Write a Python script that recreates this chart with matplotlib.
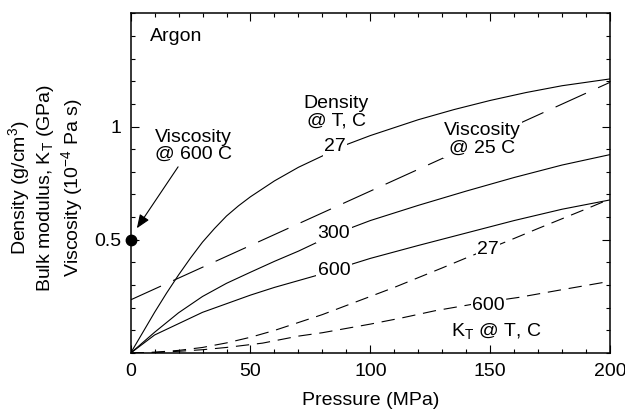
import matplotlib
matplotlib.use("Agg")
import matplotlib.pyplot as plt
from matplotlib.ticker import MultipleLocator

plt.rcParams["font.family"] = ["Liberation Sans", "DejaVu Sans"]
plt.rcParams["mathtext.default"] = "regular"

# Argon: density and bulk modulus vs pressure (MPa)
p_rho27 = [0, 5, 10, 15, 20, 25, 30, 35, 40, 45, 50, 60, 70, 80, 90, 100, 110, 120,
           135, 150, 165, 180, 200]
rho27 = [0, 0.09, 0.18, 0.265, 0.345, 0.42, 0.49, 0.55, 0.605, 0.65, 0.69, 0.76, 0.82,
         0.87, 0.92, 0.96, 0.995, 1.03, 1.075, 1.115, 1.15, 1.18, 1.21]

p_rho300 = [0, 10, 20, 30, 40, 50, 60, 70, 80, 90, 100, 120, 140, 160, 180, 200]
rho300 = [0, 0.092, 0.178, 0.25, 0.308, 0.357, 0.405, 0.45, 0.5, 0.545, 0.585, 0.652,
          0.715, 0.775, 0.83, 0.876]

p_rho600 = [0, 10, 20, 30, 40, 50, 60, 70, 80, 90, 100, 120, 140, 160, 180, 200]
rho600 = [0, 0.08, 0.13, 0.18, 0.218, 0.256, 0.29, 0.32, 0.35, 0.385, 0.418, 0.475,
          0.53, 0.585, 0.635, 0.676]

p_kt27 = [0, 10, 20, 30, 40, 50, 60, 70, 80, 90, 100, 110, 120, 130, 140, 150, 160,
          170, 180, 190, 200]
kt27 = [0, 0.004, 0.012, 0.025, 0.045, 0.07, 0.1, 0.135, 0.17, 0.21, 0.25, 0.29, 0.333,
        0.376, 0.42, 0.463, 0.506, 0.55, 0.593, 0.636, 0.68]

p_kt600 = [0, 10, 20, 30, 40, 55, 70, 80, 100, 113, 127, 145, 162, 180, 200]
kt600 = [0, 0.003, 0.008, 0.015, 0.025, 0.044, 0.075, 0.09, 0.128, 0.155, 0.187, 0.22,
         0.246, 0.28, 0.317]

# viscosity at 25 C, and the single 600 C point
p_visc25 = [0, 200]
visc25 = [0.235, 1.195]
visc600 = 0.5

fig = plt.figure(figsize=(6.25, 4.13), dpi=100)
ax = fig.add_axes([0.209, 0.145, 0.767, 0.823])

lw = 0.8
ax.plot(p_rho27, rho27, color="k", lw=lw)
ax.plot(p_rho300, rho300, color="k", lw=lw)
ax.plot(p_rho600, rho600, color="k", lw=lw)
ax.plot(p_kt27, kt27, color="k", lw=lw, linestyle=(0, (12, 7)))
ax.plot(p_kt600, kt600, color="k", lw=lw, linestyle=(0, (12, 7)))
ax.plot(p_visc25, visc25, color="k", lw=lw, linestyle=(0, (30, 12)))
ax.plot([0], [visc600], "o", color="k", ms=7.5, clip_on=False, zorder=5)

ax.annotate("", xy=(2.6, 0.551), xytext=(19.8, 0.822),
            arrowprops=dict(arrowstyle="-|>,head_length=0.55,head_width=0.22",
                            color="k", lw=lw, mutation_scale=15,
                            shrinkA=0, shrinkB=0))

fs = 14
box = dict(facecolor="white", edgecolor="none", pad=1.0)
ax.text(8.1, 1.396, "Argon", fontsize=fs, ha="left", va="center")
ax.text(26.2, 0.916, "Viscosity\n@ 600 C", fontsize=fs, ha="center", va="center",
        linespacing=1.0)
ax.text(85.8, 1.062, "Density\n@ T, C", fontsize=fs, ha="center", va="center",
        linespacing=1.0)
ax.text(146.8, 0.943, "Viscosity\n@ 25 C", fontsize=fs, ha="center", va="center",
        linespacing=1.0, bbox=box)
ax.text(85.2, 0.91, "27", fontsize=fs, ha="center", va="center", bbox=box)
ax.text(84.8, 0.529, "300", fontsize=fs, ha="center", va="center", bbox=box)
ax.text(84.8, 0.364, "600", fontsize=fs, ha="center", va="center", bbox=box)
ax.text(149.0, 0.458, "27", fontsize=fs, ha="center", va="center", bbox=box)
ax.text(149.3, 0.209, "600", fontsize=fs, ha="center", va="center", bbox=box)
ax.text(152.7, 0.098, "K$_T$ @ T, C", fontsize=fs, ha="center", va="center")

ax.set_xlim(0, 200)
ax.set_ylim(0, 1.5)
ax.set_xticks([0, 50, 100, 150, 200])
ax.set_yticks([0.5, 1.0])
ax.set_yticklabels(["0.5", "1"])
ax.xaxis.set_minor_locator(MultipleLocator(10))
ax.yaxis.set_minor_locator(MultipleLocator(0.1))
ax.tick_params(which="both", direction="in", top=True, right=True, labelsize=fs, width=0.8)
ax.tick_params(which="major", length=5.5, pad=7)
ax.tick_params(which="minor", length=3.2)
for s in ax.spines.values():
    s.set_linewidth(1.1)

ax.set_xlabel("Pressure (MPa)", fontsize=fs, labelpad=9)
fig.text(0.073, 0.545,
         "Density (g/cm$^3$)\nBulk modulus, K$_T$ (GPa)\nViscosity (10$^{-4}$ Pa s)",
         rotation=90, ha="center", va="center", fontsize=fs, linespacing=1.18,
         multialignment="center")

fig.savefig("out.png", dpi=100)
